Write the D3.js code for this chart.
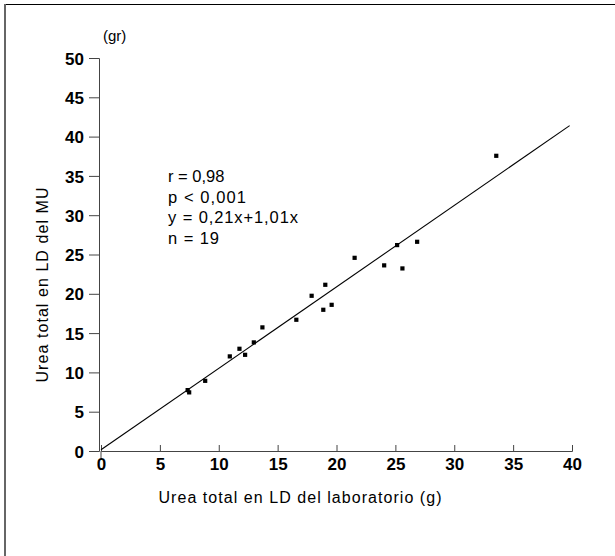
<!DOCTYPE html>
<html><head><meta charset="utf-8">
<script src="https://cdn.jsdelivr.net/npm/d3@7"></script>
<style>html,body{margin:0;padding:0;background:#fff;}svg{display:block;}</style>
</head><body>
<script>
// Data
const labX = [7.35, 7.48, 8.84, 10.93, 11.75, 12.23, 12.97, 13.70, 16.58, 17.88, 18.87, 19.04, 19.58, 21.53, 24.04, 25.14, 25.59, 26.84, 33.56];
const muY  = [7.76, 7.47, 8.94, 12.05, 13.02, 12.25, 13.83, 15.74, 16.71, 19.76, 17.98, 21.16, 18.61, 24.59, 23.63, 26.21, 23.24, 26.63, 37.57];
const fitX = [0, 39.8];
const fitY = [0.15, 41.4];
const xTicks = [0, 5, 10, 15, 20, 25, 30, 35, 40];
const yTicks = [0, 5, 10, 15, 20, 25, 30, 35, 40, 45, 50];
const statsLines = ["r = 0,98", "p < 0,001", "y = 0,21x+1,01x", "n = 19"];
const xTitle = "Urea total en LD del laboratorio (g)";
const yTitle = "Urea total en LD del MU";
const yUnit = "(gr)";

// layout only (rendered widths of the stats lines in the reference; null = natural)
const statsWidths = [null, 78, 130, 51];

const W = 615, H = 556;
const svg = d3.select("body").append("svg").attr("width", W).attr("height", H);
const font = "'Liberation Sans', Arial, sans-serif";

// frame (top and left edges only, as in the reference)
svg.append("line").attr("x1", 4).attr("x2", W).attr("y1", 4.5).attr("y2", 4.5).attr("stroke", "#000").attr("stroke-width", 1.2);
svg.append("line").attr("x1", 5).attr("x2", 5).attr("y1", 4).attr("y2", H).attr("stroke", "#666").attr("stroke-width", 2);

const x = d3.scaleLinear().domain([0, 40]).range([101, 572]);
const y = d3.scaleLinear().domain([0, 50]).range([451, 58]);

// x axis
const gx = svg.append("g").attr("transform", `translate(0,${y(0)})`)
  .call(d3.axisBottom(x).tickValues(xTicks).tickSize(-6).tickPadding(0).tickFormat(d3.format("d")));
gx.select(".domain").attr("stroke", "#444");
gx.selectAll(".tick line").attr("stroke", "#444");
gx.selectAll(".tick text").attr("font-family", font).attr("font-size", 17).attr("font-weight", "bold")
  .attr("fill", "#000").attr("y", 19).attr("dy", 0);

// small downward tick at origin
svg.append("line").attr("x1", x(0)).attr("x2", x(0)).attr("y1", y(0)).attr("y2", y(0) + 7).attr("stroke", "#444");

// y axis
const gy = svg.append("g").attr("transform", `translate(${x(0) - 2},0)`)
  .call(d3.axisLeft(y).tickValues(yTicks).tickSize(10).tickPadding(5).tickFormat(d3.format("d")));
gy.select(".domain").attr("stroke", "#444");
gy.selectAll(".tick line").attr("stroke", "#444");
gy.selectAll(".tick text").attr("font-family", font).attr("font-size", 17).attr("font-weight", "bold")
  .attr("fill", "#000").attr("dy", "0.36em");

// regression line
svg.append("line")
  .attr("x1", x(fitX[0])).attr("y1", y(fitY[0]))
  .attr("x2", x(fitX[1])).attr("y2", y(fitY[1]))
  .attr("stroke", "#000").attr("stroke-width", 1.1);

// points
const pts = labX.map((v, i) => ({x: v, y: muY[i]}));
svg.append("g").selectAll("rect").data(pts).enter().append("rect")
  .attr("x", d => x(d.x) - 2).attr("y", d => y(d.y) - 2)
  .attr("width", 4.2).attr("height", 4.2).attr("fill", "#000");

// stats text
svg.append("g").selectAll("text").data(statsLines).enter().append("text")
  .attr("x", 168).attr("y", (d, i) => 182 + i * 20.7)
  .attr("font-family", font).attr("font-size", 16.5).attr("fill", "#000")
  .each(function(d, i) {
    if (statsWidths[i]) d3.select(this).attr("textLength", statsWidths[i]).attr("lengthAdjust", "spacing");
  })
  .text(d => d);

// axis titles
svg.append("text").attr("x", 300).attr("y", 503).attr("text-anchor", "middle")
  .attr("font-family", font).attr("font-size", 16).attr("fill", "#000")
  .attr("textLength", 283).attr("lengthAdjust", "spacing")
  .text(xTitle);

svg.append("text").attr("transform", "translate(48,285) rotate(-90)").attr("text-anchor", "middle")
  .attr("font-family", font).attr("font-size", 16).attr("fill", "#000")
  .attr("textLength", 195).attr("lengthAdjust", "spacing")
  .text(yTitle);

svg.append("text").attr("x", 103).attr("y", 41)
  .attr("font-family", font).attr("font-size", 15).attr("fill", "#000")
  .text(yUnit);
</script>
</body></html>
